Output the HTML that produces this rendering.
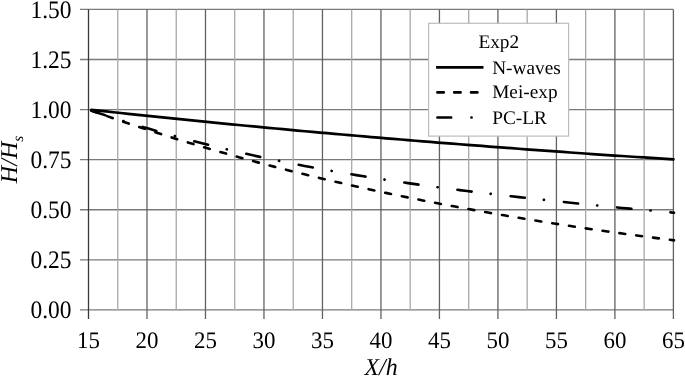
<!DOCTYPE html>
<html><head><meta charset="utf-8"><style>
html,body{margin:0;padding:0;background:#fff;}
svg{display:block;filter:grayscale(1);}
text{font-family:"Liberation Serif",serif;fill:#000;text-rendering:geometricPrecision;}
</style></head><body>
<svg width="685" height="376" viewBox="0 0 685 376">
<rect width="685" height="376" fill="#fff"/>
<line x1="80" y1="309.90" x2="673.40" y2="309.90" stroke="#7a7a7a" stroke-width="1.3"/>
<line x1="80" y1="259.82" x2="673.40" y2="259.82" stroke="#7a7a7a" stroke-width="1.3"/>
<line x1="80" y1="209.73" x2="673.40" y2="209.73" stroke="#7a7a7a" stroke-width="1.3"/>
<line x1="80" y1="159.65" x2="673.40" y2="159.65" stroke="#7a7a7a" stroke-width="1.3"/>
<line x1="80" y1="109.57" x2="673.40" y2="109.57" stroke="#7a7a7a" stroke-width="1.3"/>
<line x1="80" y1="59.49" x2="673.40" y2="59.49" stroke="#7a7a7a" stroke-width="1.3"/>
<line x1="80" y1="9.40" x2="673.40" y2="9.40" stroke="#7a7a7a" stroke-width="1.3"/>
<line x1="88.50" y1="9.40" x2="88.50" y2="319.00" stroke="#383838" stroke-width="1.3"/>
<line x1="117.75" y1="9.40" x2="117.75" y2="309.90" stroke="#a8a8a8" stroke-width="1.3"/>
<line x1="146.99" y1="9.40" x2="146.99" y2="319.00" stroke="#626262" stroke-width="1.3"/>
<line x1="176.24" y1="9.40" x2="176.24" y2="309.90" stroke="#a8a8a8" stroke-width="1.3"/>
<line x1="205.48" y1="9.40" x2="205.48" y2="319.00" stroke="#626262" stroke-width="1.3"/>
<line x1="234.72" y1="9.40" x2="234.72" y2="309.90" stroke="#a8a8a8" stroke-width="1.3"/>
<line x1="263.97" y1="9.40" x2="263.97" y2="319.00" stroke="#626262" stroke-width="1.3"/>
<line x1="293.22" y1="9.40" x2="293.22" y2="309.90" stroke="#a8a8a8" stroke-width="1.3"/>
<line x1="322.46" y1="9.40" x2="322.46" y2="319.00" stroke="#626262" stroke-width="1.3"/>
<line x1="351.70" y1="9.40" x2="351.70" y2="309.90" stroke="#a8a8a8" stroke-width="1.3"/>
<line x1="380.95" y1="9.40" x2="380.95" y2="319.00" stroke="#626262" stroke-width="1.3"/>
<line x1="410.19" y1="9.40" x2="410.19" y2="309.90" stroke="#a8a8a8" stroke-width="1.3"/>
<line x1="439.44" y1="9.40" x2="439.44" y2="319.00" stroke="#626262" stroke-width="1.3"/>
<line x1="468.69" y1="9.40" x2="468.69" y2="309.90" stroke="#a8a8a8" stroke-width="1.3"/>
<line x1="497.93" y1="9.40" x2="497.93" y2="319.00" stroke="#626262" stroke-width="1.3"/>
<line x1="527.17" y1="9.40" x2="527.17" y2="309.90" stroke="#a8a8a8" stroke-width="1.3"/>
<line x1="556.42" y1="9.40" x2="556.42" y2="319.00" stroke="#626262" stroke-width="1.3"/>
<line x1="585.66" y1="9.40" x2="585.66" y2="309.90" stroke="#a8a8a8" stroke-width="1.3"/>
<line x1="614.91" y1="9.40" x2="614.91" y2="319.00" stroke="#626262" stroke-width="1.3"/>
<line x1="644.15" y1="9.40" x2="644.15" y2="309.90" stroke="#a8a8a8" stroke-width="1.3"/>
<line x1="673.40" y1="9.40" x2="673.40" y2="319.00" stroke="#626262" stroke-width="1.3"/>
<g font-size="23.5">
<text transform="translate(71.5,318.20) scale(1,1.07)" text-anchor="end">0.00</text>
<text transform="translate(71.5,268.12) scale(1,1.07)" text-anchor="end">0.25</text>
<text transform="translate(71.5,218.03) scale(1,1.07)" text-anchor="end">0.50</text>
<text transform="translate(71.5,167.95) scale(1,1.07)" text-anchor="end">0.75</text>
<text transform="translate(71.5,117.87) scale(1,1.07)" text-anchor="end">1.00</text>
<text transform="translate(71.5,67.79) scale(1,1.07)" text-anchor="end">1.25</text>
<text transform="translate(71.5,17.70) scale(1,1.07)" text-anchor="end">1.50</text>
<text transform="translate(88.50,348.2) scale(0.975,1.01)" text-anchor="middle">15</text>
<text transform="translate(146.99,348.2) scale(0.975,1.01)" text-anchor="middle">20</text>
<text transform="translate(205.48,348.2) scale(0.975,1.01)" text-anchor="middle">25</text>
<text transform="translate(263.97,348.2) scale(0.975,1.01)" text-anchor="middle">30</text>
<text transform="translate(322.46,348.2) scale(0.975,1.01)" text-anchor="middle">35</text>
<text transform="translate(380.95,348.2) scale(0.975,1.01)" text-anchor="middle">40</text>
<text transform="translate(439.44,348.2) scale(0.975,1.01)" text-anchor="middle">45</text>
<text transform="translate(497.93,348.2) scale(0.975,1.01)" text-anchor="middle">50</text>
<text transform="translate(556.42,348.2) scale(0.975,1.01)" text-anchor="middle">55</text>
<text transform="translate(614.91,348.2) scale(0.975,1.01)" text-anchor="middle">60</text>
<text transform="translate(673.40,348.2) scale(0.975,1.01)" text-anchor="middle">65</text>
</g>
<text transform="translate(381.1,374.5) scale(1,1.01)" text-anchor="middle" font-size="24" font-style="italic">X/h</text>
<text transform="translate(17.1,183.2) rotate(-90)" font-size="24.1" font-style="italic">H/H<tspan font-size="15.5" dy="6">s</tspan></text>
<rect x="428.6" y="23.3" width="140" height="112.8" fill="#fff" stroke="#bdbdbd" stroke-width="1.2"/>
<g font-size="19.3">
<text transform="translate(498.8,48.4)" text-anchor="middle">Exp2</text>
<text transform="translate(492.2,73.5)">N-waves</text>
<text transform="translate(492.2,98.45)">Mei-exp</text>
<text transform="translate(492.2,124.3)">PC-LR</text>
</g>
<line x1="436.1" y1="67.3" x2="483.5" y2="67.3" stroke="#000" stroke-width="2.7"/>
<line x1="437.4" y1="92.4" x2="480" y2="92.4" stroke="#000" stroke-width="2.6" stroke-linecap="round" stroke-dasharray="6.4 10.4"/>
<line x1="437.4" y1="117.5" x2="475" y2="117.5" stroke="#000" stroke-width="2.6" stroke-linecap="round" stroke-dasharray="13.8 20.2 0.2 20"/>
<polyline points="90.20,110.17 97.59,112.67 104.98,115.12 112.37,117.52 119.76,119.88 127.15,122.19 134.54,124.46 141.93,126.69 149.32,128.87 156.71,131.01 164.10,133.11 171.49,135.17 178.88,137.18 186.27,139.16 193.66,141.10 201.05,143.00 208.44,144.86 215.83,146.69 223.22,148.48 230.61,150.23 238.00,151.95 245.39,153.63 252.78,155.28 260.17,156.89 267.56,158.47 274.95,160.02 282.34,161.54 289.73,163.03 297.12,164.48 304.51,165.91 311.90,167.31 319.29,168.68 326.68,170.02 334.07,171.33 341.46,172.62 348.85,173.88 356.24,175.11 363.63,176.33 371.02,177.51 378.41,178.68 385.79,179.82 393.18,180.93 400.57,182.03 407.96,183.11 415.35,184.16 422.74,185.20 430.13,186.21 437.52,187.21 444.91,188.19 452.30,189.15 459.69,190.10 467.08,191.03 474.47,191.94 481.86,192.84 489.25,193.73 496.64,194.60 504.03,195.46 511.42,196.31 518.81,197.14 526.20,197.96 533.59,198.78 540.98,199.58 548.37,200.38 555.76,201.16 563.15,201.94 570.54,202.71 577.93,203.48 585.32,204.24 592.71,204.99 600.10,205.74 607.49,206.48 614.88,207.21 622.27,207.93 629.66,208.64 637.05,209.33 644.44,210.00 651.83,210.68 659.22,211.36 666.61,212.03 674.00,212.71" fill="none" stroke="#000" stroke-width="2.6" stroke-linecap="round" stroke-dasharray="14.3 19.11 0.2 19.95" stroke-dashoffset="-1.5"/>
<polyline points="90.20,110.13 97.59,112.77 104.98,115.37 112.37,117.95 119.76,120.49 127.15,123.00 134.54,125.47 141.93,127.92 149.32,130.33 156.71,132.72 164.10,135.07 171.49,137.39 178.88,139.68 186.27,141.94 193.66,144.17 201.05,146.38 208.44,148.55 215.83,150.70 223.22,152.81 230.61,154.90 238.00,156.97 245.39,159.00 252.78,161.01 260.17,162.99 267.56,164.94 274.95,166.87 282.34,168.77 289.73,170.65 297.12,172.50 304.51,174.32 311.90,176.13 319.29,177.90 326.68,179.66 334.07,181.39 341.46,183.09 348.85,184.78 356.24,186.44 363.63,188.08 371.02,189.69 378.41,191.29 385.79,192.86 393.18,194.41 400.57,195.94 407.96,197.45 415.35,198.94 422.74,200.41 430.13,201.86 437.52,203.29 444.91,204.70 452.30,206.09 459.69,207.47 467.08,208.82 474.47,210.16 481.86,211.48 489.25,212.79 496.64,214.07 504.03,215.34 511.42,216.60 518.81,217.83 526.20,219.06 533.59,220.26 540.98,221.45 548.37,222.63 555.76,223.79 563.15,224.94 570.54,226.07 577.93,227.19 585.32,228.29 592.71,229.37 600.10,230.44 607.49,231.49 614.88,232.52 622.27,233.54 629.66,234.55 637.05,235.54 644.44,236.51 651.83,237.48 659.22,238.45 666.61,239.41 674.00,240.36" fill="none" stroke="#000" stroke-width="2.6" stroke-linecap="round" stroke-dasharray="5.9 11.078" stroke-dashoffset="-0.98"/>
<polyline points="91.40,109.80 98.77,110.62 106.13,111.43 113.50,112.23 120.87,113.03 128.24,113.82 135.60,114.60 142.97,115.38 150.34,116.15 157.70,116.92 165.07,117.67 172.44,118.43 179.81,119.17 187.17,119.92 194.54,120.66 201.91,121.39 209.27,122.12 216.64,122.85 224.01,123.58 231.37,124.30 238.74,125.01 246.11,125.72 253.48,126.43 260.84,127.13 268.21,127.82 275.58,128.51 282.94,129.19 290.31,129.87 297.68,130.55 305.05,131.22 312.41,131.88 319.78,132.54 327.15,133.20 334.51,133.85 341.88,134.50 349.25,135.14 356.62,135.78 363.98,136.41 371.35,137.04 378.72,137.67 386.08,138.29 393.45,138.91 400.82,139.52 408.18,140.13 415.55,140.74 422.92,141.34 430.29,141.94 437.65,142.53 445.02,143.12 452.39,143.70 459.75,144.27 467.12,144.85 474.49,145.41 481.86,145.97 489.22,146.53 496.59,147.09 503.96,147.64 511.32,148.19 518.69,148.73 526.06,149.28 533.43,149.82 540.79,150.35 548.16,150.89 555.53,151.42 562.89,151.95 570.26,152.48 577.63,153.00 584.99,153.52 592.36,154.03 599.73,154.53 607.10,155.03 614.46,155.53 621.83,156.02 629.20,156.50 636.56,156.98 643.93,157.46 651.30,157.94 658.67,158.42 666.03,158.91 673.40,159.39" fill="none" stroke="#000" stroke-width="2.7" stroke-linecap="round" stroke-linejoin="round"/>
</svg>
</body></html>
